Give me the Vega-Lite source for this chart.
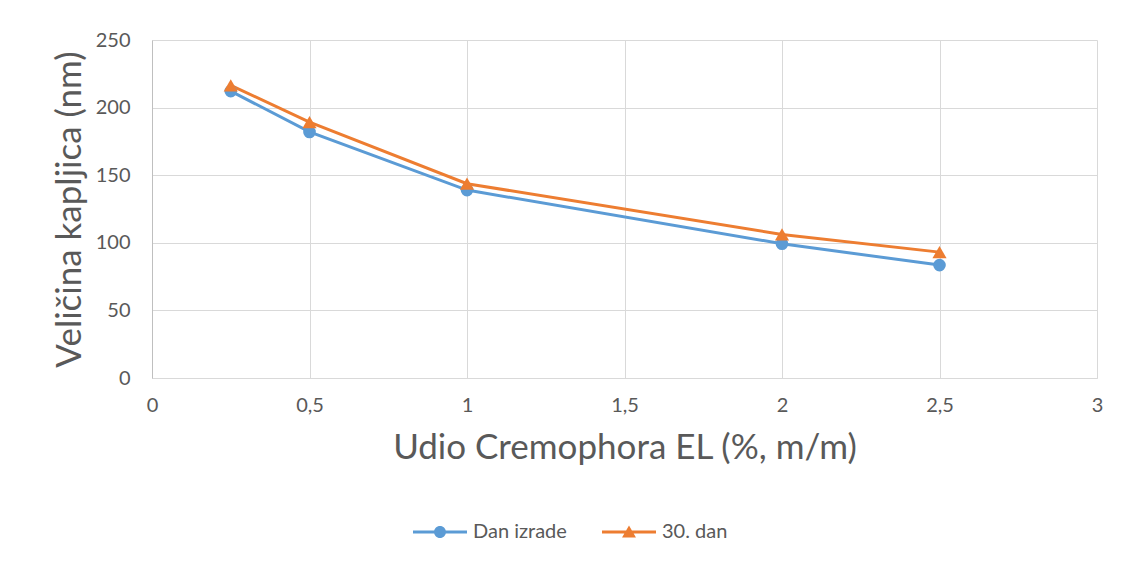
{
  "$schema": "https://vega.github.io/schema/vega-lite/v6.json",
  "width": 945,
  "height": 338,
  "autosize": {"type": "none"},
  "padding": {"left": 152, "top": 40, "right": 26, "bottom": 186},
  "background": "white",
  "config": {"font": "Lato", "view": {"stroke": null}},
  "data": {
    "values": [
      {"udio": 0.25, "velicina": 212.2, "serija": "Dan izrade"},
      {"udio": 0.5, "velicina": 182.0, "serija": "Dan izrade"},
      {"udio": 1, "velicina": 139.0, "serija": "Dan izrade"},
      {"udio": 2, "velicina": 99.3, "serija": "Dan izrade"},
      {"udio": 2.5, "velicina": 83.5, "serija": "Dan izrade"},
      {"udio": 0.25, "velicina": 216.5, "serija": "30. dan"},
      {"udio": 0.5, "velicina": 189.2, "serija": "30. dan"},
      {"udio": 1, "velicina": 143.7, "serija": "30. dan"},
      {"udio": 2, "velicina": 106.2, "serija": "30. dan"},
      {"udio": 2.5, "velicina": 93.1, "serija": "30. dan"}
    ]
  },
  "encoding": {
    "x": {
      "field": "udio",
      "type": "quantitative",
      "scale": {"domain": [0, 3], "nice": false, "zero": true},
      "axis": {
        "values": [0, 0.5, 1, 1.5, 2, 2.5, 3],
        "labelExpr": "replace(toString(datum.value), '.', ',')",
        "labelFlush": false,
        "title": "Udio Cremophora EL (%, m/m)",
        "grid": true,
        "gridColor": "#D9D9D9",
        "gridWidth": 1,
        "domainColor": "#D9D9D9",
        "ticks": false,
        "labelFontSize": 20,
        "labelColor": "#595959",
        "labelPadding": 17,
        "titleFontSize": 35,
        "titleFontWeight": "normal",
        "titleColor": "#595959",
        "titlePadding": 15
      }
    },
    "y": {
      "field": "velicina",
      "type": "quantitative",
      "scale": {"domain": [0, 250], "nice": false},
      "axis": {
        "values": [0, 50, 100, 150, 200, 250],
        "labelFlush": false,
        "title": "Veličina kapljica (nm)",
        "grid": true,
        "gridColor": "#D9D9D9",
        "gridWidth": 1,
        "domainColor": "#BFBFBF",
        "ticks": false,
        "labelFontSize": 20,
        "labelColor": "#595959",
        "labelPadding": 22,
        "titleFontSize": 35,
        "titleFontWeight": "normal",
        "titleColor": "#595959",
        "titlePadding": 8
      }
    },
    "color": {
      "field": "serija",
      "type": "nominal",
      "scale": {"domain": ["Dan izrade", "30. dan"], "range": ["#5B9BD5", "#ED7D31"]},
      "legend": {
        "title": null,
        "orient": "none",
        "direction": "horizontal",
        "legendX": 276,
        "legendY": 480,
        "symbolSize": 576,
        "symbolStrokeWidth": 0,
        "labelOffset": 21,
        "labelFontSize": 20,
        "labelColor": "#595959",
        "columnPadding": 35,
        "encode": {
          "symbols": {
            "update": {
              "shape": {"signal": "datum.value === 'Dan izrade' ? 'M-2.25,-0.125H2.25V0.125H-2.25Z M0.5,0A0.5,0.5 0 1,1 -0.5,0A0.5,0.5 0 1,1 0.5,0Z' : 'M-2.25,-0.125H2.25V0.125H-2.25Z M0,-0.55L0.58,0.45L-0.58,0.45Z'"},
              "fill": {"signal": "scale('color', datum.value)"},
              "fillOpacity": {"value": 1},
              "strokeWidth": {"value": 0}
            }
          }
        }
      }
    }
  },
  "layer": [
    {"mark": {"type": "line", "strokeWidth": 3}},
    {
      "transform": [{"filter": "datum.serija === 'Dan izrade'"}],
      "mark": {"type": "point", "shape": "circle", "filled": true, "opacity": 1, "size": 160}
    },
    {
      "transform": [{"filter": "datum.serija === '30. dan'"}],
      "mark": {"type": "point", "shape": "triangle-up", "filled": true, "opacity": 1, "size": 200}
    }
  ]
}
